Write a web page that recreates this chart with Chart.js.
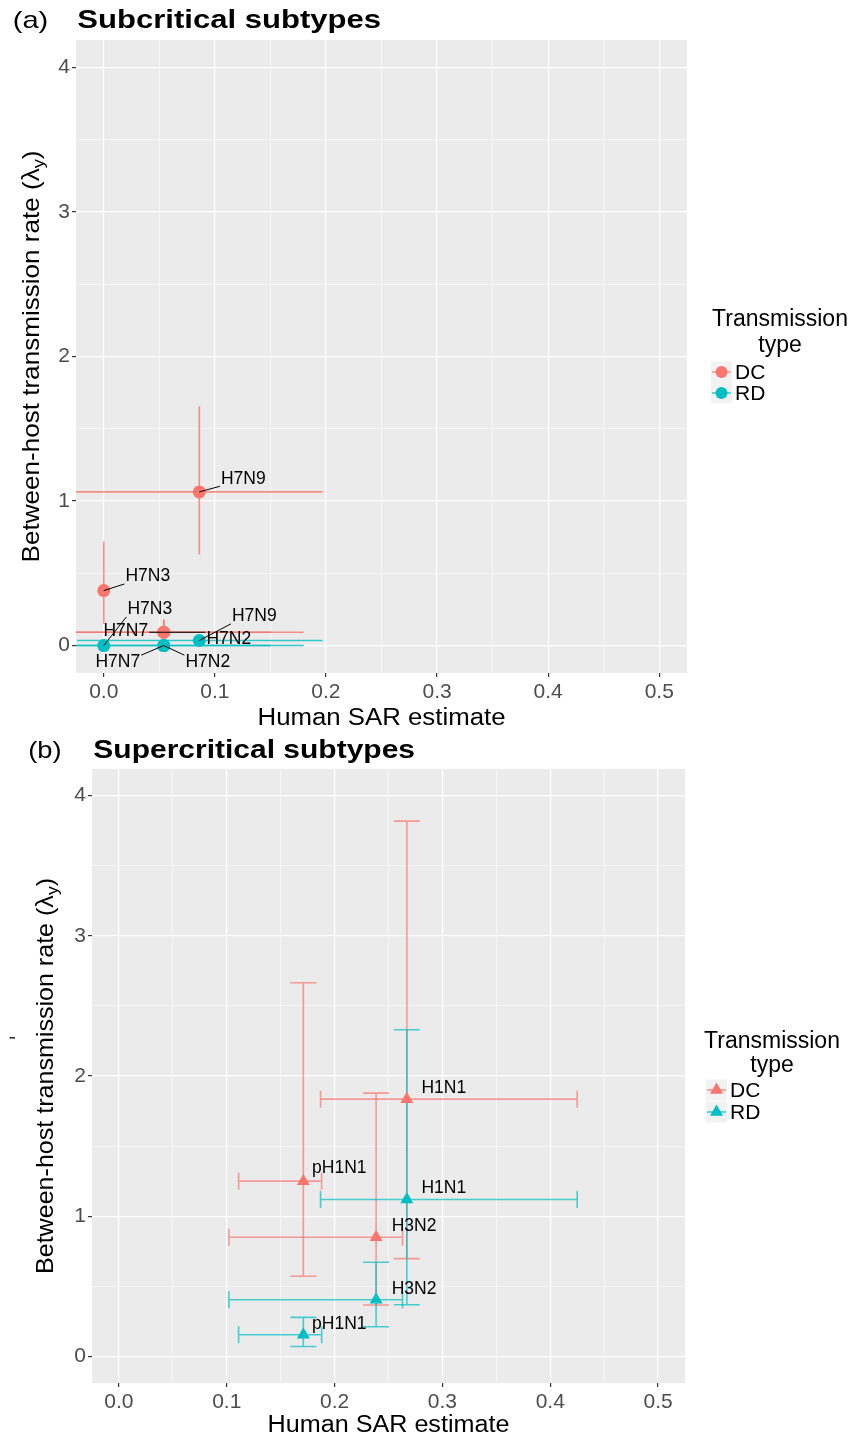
<!DOCTYPE html>
<html>
<head>
<meta charset="utf-8">
<script src="https://cdn.jsdelivr.net/npm/chart.js@4.4.1/dist/chart.umd.min.js"></script>
<style>
html, body { margin: 0; padding: 0; background: #fff; }
#wrap { position: relative; width: 852px; height: 1437px; overflow: hidden; }
.panel { position: absolute; left: 0; width: 852px; }
</style>
</head>
<body>
<div id="wrap">
  <div class="panel" style="top:0;height:728px"><canvas id="subChart" width="852" height="728"></canvas></div>
  <div class="panel" style="top:728px;height:709px"><canvas id="superChart" width="852" height="709"></canvas></div>
</div>
<script>
// axis ticks
var xTickValues = [0, 0.1, 0.2, 0.3, 0.4, 0.5];
var xMinorValues = [0.05, 0.15, 0.25, 0.35, 0.45];
var yTickValues = [0, 1, 2, 3, 4];
var yMinorValues = [0.5, 1.5, 2.5, 3.5];
var typeNames = ['DC', 'RD'];

// (a) subcritical subtypes
var subNamesDC = ['H7N9', 'H7N3', 'H7N7', 'H7N2'];
var subSarDC = [0.086, 0, 0.054, 0.054];
var subSarLoDC = [-0.025, 0, -0.04, -0.07];
var subSarHiDC = [0.197, 0, 0.15, 0.18];
var subRateDC = [1.063, 0.38, 0.092, 0.092];
var subRateLoDC = [0.63, 0.15, 0.05, 0.05];
var subRateHiDC = [1.655, 0.72, 0.18, 0.18];

var subNamesRD = ['H7N9', 'H7N3', 'H7N7', 'H7N2'];
var subSarRD = [0.086, 0, 0.054, 0.054];
var subSarLoRD = [-0.024, 0, -0.04, -0.07];
var subSarHiRD = [0.197, 0, 0.15, 0.18];
var subRateRD = [0.035, 0, 0, 0];
var subRateLoRD = [0.01, 0, 0, 0];
var subRateHiRD = [0.06, 0, 0.01, 0.01];

// (b) supercritical subtypes
var supNamesDC = ['H1N1', 'pH1N1', 'H3N2'];
var supSarDC = [0.267, 0.171, 0.2385];
var supSarLoDC = [0.187, 0.111, 0.102];
var supSarHiDC = [0.425, 0.188, 0.263];
var supRateDC = [1.835, 1.25, 0.85];
var supRateLoDC = [0.697, 0.571, 0.366];
var supRateHiDC = [3.818, 2.665, 1.878];

var supNamesRD = ['H1N1', 'pH1N1', 'H3N2'];
var supSarRD = [0.267, 0.171, 0.2385];
var supSarLoRD = [0.187, 0.111, 0.102];
var supSarHiRD = [0.425, 0.188, 0.263];
var supRateRD = [1.119, 0.154, 0.404];
var supRateLoRD = [0.368, 0.07, 0.211];
var supRateHiRD = [2.33, 0.278, 0.671];

var FONT = '"Liberation Sans", Arial, Helvetica, sans-serif';
var RED = '248,118,109';
var TEAL = '0,191,196';

// label offsets in pixels (styling only)
var subOffsetsDC = [[44, -13], [44, -14], [-38, -1], [65, 7]];
var subOffsetsRD = [[55, -24], [46, -36], [-46, 17], [44, 17]];
var supOffsetsDC = [[37, -11], [36, -13], [38, -11]];
var supOffsetsRD = [[37, -11], [36, -11], [38, -11]];

function makeSet(label, rgb, shape, radius, xs, ys, xlo, xhi, ylo, yhi, names, offsets) {
    return {
        label: label,
        data: xs.map(function (x, i) { return { x: x, y: ys[i] }; }),
        pointStyle: shape,
        pointRadius: radius,
        pointHoverRadius: radius,
        backgroundColor: 'rgb(' + rgb + ')',
        borderWidth: 0,
        rgb: rgb,
        errX: xlo.map(function (v, i) { return [v, xhi[i]]; }),
        errY: ylo.map(function (v, i) { return [v, yhi[i]]; }),
        names: names,
        labelOffsets: offsets
    };
}

function fitText(ctx, text, x, y, width, font) {
    ctx.save();
    ctx.font = font;
    var w = ctx.measureText(text).width;
    ctx.translate(x, y);
    ctx.scale(width / w, 1);
    ctx.textAlign = 'left';
    ctx.fillText(text, 0, 0);
    ctx.restore();
}

var panelBg = {
    id: 'panelBg',
    beforeDraw: function (chart) {
        var a = chart.chartArea, ctx = chart.ctx;
        ctx.save();
        ctx.fillStyle = '#EBEBEB';
        ctx.fillRect(a.left, a.top, a.right - a.left, a.bottom - a.top);
        ctx.restore();
    }
};

var errorBars = {
    id: 'errorBars',
    beforeDatasetsDraw: function (chart, args, o) {
        var ctx = chart.ctx, a = chart.chartArea;
        var xs = chart.scales.x, ys = chart.scales.y;
        ctx.save();
        ctx.beginPath();
        ctx.rect(a.left, a.top, a.right - a.left, a.bottom - a.top);
        ctx.clip();
        ctx.lineWidth = o.lineWidth;
        chart.data.datasets.forEach(function (ds) {
            ctx.strokeStyle = 'rgba(' + ds.rgb + ',' + o.alpha + ')';
            ds.data.forEach(function (p, i) {
                var e = ds.errY[i];
                if (e[0] === e[1]) return;
                var px = xs.getPixelForValue(p.x);
                var y1 = ys.getPixelForValue(e[0]), y2 = ys.getPixelForValue(e[1]);
                ctx.beginPath();
                ctx.moveTo(px, y1); ctx.lineTo(px, y2);
                if (o.capV > 0) {
                    ctx.moveTo(px - o.capV, y1); ctx.lineTo(px + o.capV, y1);
                    ctx.moveTo(px - o.capV, y2); ctx.lineTo(px + o.capV, y2);
                }
                ctx.stroke();
            });
        });
        chart.data.datasets.forEach(function (ds) {
            ctx.strokeStyle = 'rgba(' + ds.rgb + ',' + o.alpha + ')';
            ds.data.forEach(function (p, i) {
                var e = ds.errX[i];
                if (e[0] === e[1]) return;
                var py = ys.getPixelForValue(p.y);
                var x1 = xs.getPixelForValue(e[0]), x2 = xs.getPixelForValue(e[1]);
                ctx.beginPath();
                ctx.moveTo(x1, py); ctx.lineTo(x2, py);
                if (o.capH > 0) {
                    ctx.moveTo(x1, py - o.capH); ctx.lineTo(x1, py + o.capH);
                    ctx.moveTo(x2, py - o.capH); ctx.lineTo(x2, py + o.capH);
                }
                ctx.stroke();
            });
        });
        ctx.restore();
    }
};

var pointLabels = {
    id: 'pointLabels',
    afterDatasetsDraw: function (chart, args, o) {
        var ctx = chart.ctx, xs = chart.scales.x, ys = chart.scales.y;
        ctx.save();
        ctx.font = o.size + 'px ' + FONT;
        ctx.textAlign = 'center';
        ctx.textBaseline = 'middle';
        chart.data.datasets.forEach(function (ds) {
            ds.data.forEach(function (p, i) {
                var px = xs.getPixelForValue(p.x), py = ys.getPixelForValue(p.y);
                var off = ds.labelOffsets[i];
                var cx = px + off[0], cy = py + off[1];
                var hw = ctx.measureText(ds.names[i]).width / 2 + 1, hh = o.size * 0.42;
                if (o.segments) {
                    var nx = Math.max(cx - hw, Math.min(px, cx + hw));
                    var ny = Math.max(cy - hh, Math.min(py, cy + hh));
                    if (Math.hypot(nx - px, ny - py) > 4) {
                        ctx.strokeStyle = '#000';
                        ctx.lineWidth = 1;
                        ctx.beginPath();
                        ctx.moveTo(px, py); ctx.lineTo(nx, ny);
                        ctx.stroke();
                    }
                }
                ctx.fillStyle = '#000';
                ctx.fillText(ds.names[i], cx, cy);
            });
        });
        ctx.restore();
    }
};

function drawShape(ctx, shape, x, y, r) {
    ctx.beginPath();
    if (shape === 'triangle') {
        ctx.moveTo(x, y - r);
        ctx.lineTo(x + r * Math.sin(Math.PI / 3), y + r / 2);
        ctx.lineTo(x - r * Math.sin(Math.PI / 3), y + r / 2);
        ctx.closePath();
    } else {
        ctx.arc(x, y, r, 0, Math.PI * 2);
    }
    ctx.fill();
}

var panelText = {
    id: 'panelText',
    afterDraw: function (chart, args, o) {
        var ctx = chart.ctx, a = chart.chartArea;
        ctx.save();
        ctx.fillStyle = '#000';
        ctx.textBaseline = 'alphabetic';
        fitText(ctx, o.tag, o.tagX, o.titleBase, o.tagW, '24px ' + FONT);
        fitText(ctx, o.title, o.titleX, o.titleBase, o.titleW, 'bold 26px ' + FONT);
        fitText(ctx, 'Human SAR estimate', (a.left + a.right) / 2 - o.xTitleW / 2, o.xTitleBase, o.xTitleW, '23.5px ' + FONT);

        // y title with subscript
        ctx.save();
        ctx.translate(o.yTitleBase, (a.top + a.bottom) / 2);
        ctx.rotate(-Math.PI / 2);
        var f = 24, main = 'Between-host transmission rate (\u03bb', sub = 'y', end = ')';
        ctx.font = f + 'px ' + FONT;
        var w1 = ctx.measureText(main).width, w3 = ctx.measureText(end).width;
        ctx.font = (f * 0.7) + 'px ' + FONT;
        var w2 = ctx.measureText(sub).width;
        var total = w1 + w2 + w3;
        ctx.scale(o.yTitleLen / total, 1);
        ctx.translate(-total / 2, 0);
        ctx.font = f + 'px ' + FONT;
        ctx.fillText(main, 0, 0);
        ctx.fillText(end, w1 + w2, 0);
        ctx.font = (f * 0.7) + 'px ' + FONT;
        ctx.fillText(sub, w1, f * 0.22);
        ctx.restore();

        // legend
        var L = o.legend;
        ctx.textAlign = 'center';
        ctx.textBaseline = 'middle';
        ctx.font = '23px ' + FONT;
        ctx.fillText('Transmission', L.cx, L.y1);
        ctx.fillText('type', L.cx, L.y2);
        ctx.textAlign = 'left';
        ctx.font = '21px ' + FONT;
        chart.data.datasets.forEach(function (ds, i) {
            var ky = L.keys[i];
            ctx.fillStyle = '#F2F2F2';
            ctx.fillRect(L.kx, ky - 10.5, 21, 21);
            ctx.strokeStyle = 'rgba(' + ds.rgb + ',0.75)';
            ctx.lineWidth = 1.6;
            ctx.beginPath();
            ctx.moveTo(L.kx + 1, ky); ctx.lineTo(L.kx + 20, ky);
            ctx.stroke();
            ctx.fillStyle = 'rgb(' + ds.rgb + ')';
            drawShape(ctx, L.shape, L.kx + 10.5, ky, L.r);
            ctx.fillStyle = '#000';
            ctx.fillText(typeNames[i], L.tx, ky + 1);
        });

        if (o.dash) {
            ctx.fillStyle = '#333';
            ctx.fillRect(o.dash[0], o.dash[1], 5.5, 1.6);
        }
        ctx.restore();
    }
};

function axis(min, max, major, minor, fmt, fixSize, isX) {
    var all = major.concat(minor);
    var isMajor = function (v) { return major.indexOf(v) >= 0; };
    return {
        type: 'linear',
        min: min,
        max: max,
        afterBuildTicks: function (s) {
            s.ticks = all.map(function (v) { return { value: v }; });
        },
        afterFit: function (s) {
            if (isX) { s.height = fixSize; } else { s.width = fixSize; }
        },
        ticks: {
            autoSkip: false,
            maxRotation: 0,
            padding: isX ? 3 : 2,
            color: '#4D4D4D',
            font: { family: FONT, size: 21 },
            callback: function (v) { return isMajor(v) ? fmt(v) : ''; }
        },
        grid: {
            color: '#FFFFFF',
            lineWidth: function (c) { return c.tick && isMajor(c.tick.value) ? 1.2 : 0.55; },
            tickColor: function (c) { return c.tick && isMajor(c.tick.value) ? '#333333' : 'rgba(0,0,0,0)'; },
            tickLength: 4
        },
        border: { display: false }
    };
}

function fmtX(v) { return v.toFixed(1); }
function fmtY(v) { return String(v); }

function buildChart(id, datasets, layout, xFix, yFix, errOpts, labelOpts, textOpts) {
    return new Chart(document.getElementById(id).getContext('2d'), {
        type: 'scatter',
        data: { datasets: datasets },
        options: {
            responsive: false,
            animation: false,
            devicePixelRatio: 1,
            events: [],
            layout: { padding: layout },
            scales: {
                x: axis(-0.025, 0.525, xTickValues, xMinorValues, fmtX, xFix, true),
                y: axis(-0.19, 4.19, yTickValues, yMinorValues, fmtY, yFix, false)
            },
            plugins: {
                legend: { display: false },
                tooltip: { enabled: false },
                errorBars: errOpts,
                pointLabels: labelOpts,
                panelText: textOpts
            }
        },
        plugins: [panelBg, errorBars, pointLabels, panelText]
    });
}

document.addEventListener('DOMContentLoaded', function () {
    buildChart('subChart', [
        makeSet('DC', RED, 'circle', 6.5, subSarDC, subRateDC, subSarLoDC, subSarHiDC, subRateLoDC, subRateHiDC, subNamesDC, subOffsetsDC),
        makeSet('RD', TEAL, 'circle', 6.5, subSarRD, subRateRD, subSarLoRD, subSarHiRD, subRateLoRD, subRateHiRD, subNamesRD, subOffsetsRD)
    ], { left: 0, top: 40, right: 165, bottom: 0 }, 55, 76,
    { lineWidth: 1.6, alpha: 0.8, capV: 0, capH: 0 },
    { size: 17.5, segments: true },
    {
        tag: '(a)', tagX: 12.7, tagW: 35.6,
        title: 'Subcritical subtypes', titleX: 77.3, titleW: 303.7, titleBase: 28.3,
        xTitleW: 248, xTitleBase: 724.5,
        yTitleBase: 39, yTitleLen: 412,
        legend: { cx: 780, y1: 320, y2: 346, kx: 711, keys: [372, 393], tx: 735, shape: 'circle', r: 6 }
    });

    buildChart('superChart', [
        makeSet('DC', RED, 'triangle', 7.5, supSarDC, supRateDC, supSarLoDC, supSarHiDC, supRateLoDC, supRateHiDC, supNamesDC, supOffsetsDC),
        makeSet('RD', TEAL, 'triangle', 7.5, supSarRD, supRateRD, supSarLoRD, supSarHiRD, supRateLoRD, supRateHiRD, supNamesRD, supOffsetsRD)
    ], { left: 0, top: 41, right: 167, bottom: 0 }, 54, 92,
    { lineWidth: 1.6, alpha: 0.7, capV: 13, capH: 8.5 },
    { size: 17.5, segments: false },
    {
        tag: '(b)', tagX: 28.3, tagW: 33.3,
        title: 'Supercritical subtypes', titleX: 93.3, titleW: 321.7, titleBase: 30.3,
        xTitleW: 242, xTitleBase: 704,
        yTitleBase: 53, yTitleLen: 396,
        legend: { cx: 772, y1: 314, y2: 338, kx: 706, keys: [362, 384], tx: 730, shape: 'triangle', r: 7.5 },
        dash: [9.5, 309]
    });
});
</script>
</body>
</html>
